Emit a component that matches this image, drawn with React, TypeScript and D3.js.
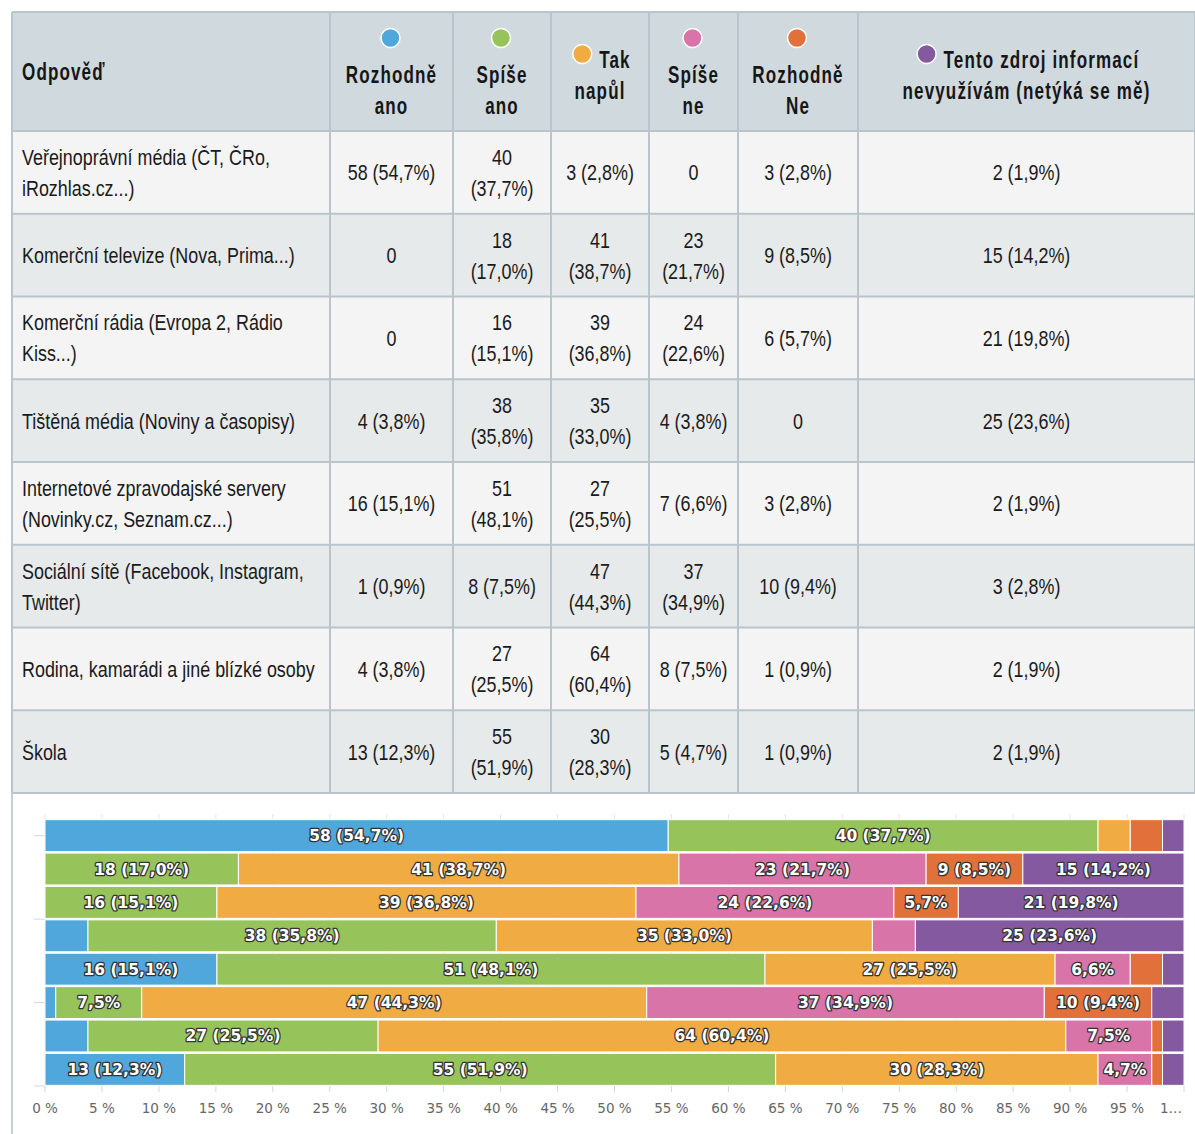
import React from "react";
import * as d3 from "d3";

const categories = [
  "Veřejnoprávní média (ČT, ČRo, iRozhlas.cz...)",
  "Komerční televize (Nova, Prima...)",
  "Komerční rádia (Evropa 2, Rádio Kiss...)",
  "Tištěná média (Noviny a časopisy)",
  "Internetové zpravodajské servery (Novinky.cz, Seznam.cz...)",
  "Sociální sítě (Facebook, Instagram, Twitter)",
  "Rodina, kamarádi a jiné blízké osoby",
  "Škola",
];

const rozhodneAno = [58, 0, 0, 4, 16, 1, 4, 13];
const spiseAno = [40, 18, 16, 38, 51, 8, 27, 55];
const takNapul = [3, 41, 39, 35, 27, 47, 64, 30];
const spiseNe = [0, 23, 24, 4, 7, 37, 8, 5];
const rozhodneNe = [3, 9, 6, 0, 3, 10, 1, 1];
const nevyuzivam = [2, 15, 21, 25, 2, 3, 2, 2];

const seriesNames = [
  "Rozhodně ano",
  "Spíše ano",
  "Tak napůl",
  "Spíše ne",
  "Rozhodně Ne",
  "Tento zdroj informací nevyužívám (netýká se mě)",
];
const seriesColors = ["#4fa7dc", "#97c35b", "#f0ab43", "#d874a7", "#e2703a", "#8559a0"];
const firstHeader = "Odpověď";
const xTicks = [0, 5, 10, 15, 20, 25, 30, 35, 40, 45, 50, 55, 60, 65, 70, 75, 80, 85, 90, 95, 100];

const seriesValues = [rozhodneAno, spiseAno, takNapul, spiseNe, rozhodneNe, nevyuzivam];

// layout
const W = 1195;
const H = 1134;
const colEdges = [12, 330, 453, 551, 649, 738, 858, 1195];
const headerTop = 12;
const headerBottom = 131;
const tableBottom = 793;
const plotLeft = 45;
const plotRight = 1184;
const barsTop = 819;
const barsBottom = 1086;

const tableFont = "'Liberation Sans', Arial, sans-serif";
const chartFont = "'DejaVu Sans', sans-serif";
const bodySX = 0.815;
const bodySize = 22;
const headSX = 0.71;
const headSize = 24;
const headLS = 1.6;

function pct(v: number, total: number) {
  return ((v / total) * 100).toFixed(1).replace(".", ",");
}

function wrapWords(text: string, maxChars: number): string[] {
  const words = text.split(" ");
  const lines: string[] = [];
  let cur = "";
  for (const w of words) {
    const cand = cur ? cur + " " + w : w;
    if (cand.length > maxChars && cur) {
      lines.push(cur);
      cur = w;
    } else cur = cand;
  }
  if (cur) lines.push(cur);
  return lines;
}

let _ctx: CanvasRenderingContext2D | null = null;
function measureHead(s: string): number {
  if (!_ctx) {
    const c = document.createElement("canvas");
    _ctx = c.getContext("2d");
  }
  if (!_ctx) return s.length * 10;
  _ctx.font = `bold ${headSize}px 'Liberation Sans', Arial, sans-serif`;
  return (_ctx.measureText(s).width + s.length * headLS) * headSX;
}

function ST(props: { x: number; y: number; sx: number; anchor?: string; style: React.CSSProperties; children: any }) {
  return (
    <text
      transform={`translate(${props.x},${props.y}) scale(${props.sx},1)`}
      textAnchor={props.anchor || "start"}
      style={props.style}
    >
      {props.children}
    </text>
  );
}

export default function App() {
  const totals = categories.map((_, i) => seriesValues.reduce((s, arr) => s + arr[i], 0));
  const rowH = (tableBottom - headerBottom) / categories.length;
  const lineH = 31;

  const x = d3.scaleLinear().domain([0, 100]).range([plotLeft, plotRight]);
  const y = d3
    .scaleBand<string>()
    .domain(categories)
    .range([barsTop, barsBottom])
    .paddingInner(0.045)
    .paddingOuter(0.02);
  const yUnit = d3.scaleLinear().domain([0, categories.length]).range([barsTop, barsBottom]);

  const stackData = categories.map((c, i) => {
    const row: any = { cat: c };
    seriesNames.forEach((s, k) => (row[s] = (seriesValues[k][i] / totals[i]) * 100));
    return row;
  });
  const stack = d3.stack<any>().keys(seriesNames)(stackData);

  const headerCenterY = (headerTop + headerBottom) / 2;
  const headStyle: React.CSSProperties = {
    fontFamily: tableFont,
    fontWeight: 700,
    fontSize: headSize,
    letterSpacing: headLS,
    fill: "#161616",
  };
  const bodyStyle: React.CSSProperties = {
    fontFamily: tableFont,
    fontSize: bodySize,
    fill: "#1a1a1a",
  };

  const cellText = (v: number, t: number) => (v === 0 ? "0" : `${v} (${pct(v, t)}%)`);

  return (
    <div style={{ position: "absolute", left: 0, top: 0 }}>
      <svg width={W} height={H} style={{ display: "block", background: "#fff" }}>
        {/* header background */}
        <rect x={colEdges[0]} y={headerTop} width={colEdges[7] - colEdges[0]} height={headerBottom - headerTop} fill="#d0d9dd" />
        {categories.map((c, i) => (
          <rect
            key={"bg" + i}
            x={colEdges[0]}
            y={headerBottom + i * rowH}
            width={colEdges[7] - colEdges[0]}
            height={rowH}
            fill={i % 2 === 0 ? "#f4f4f4" : "#e7eaeb"}
          />
        ))}
        {colEdges.map((cx, i) => (
          <line key={"vc" + i} x1={cx} x2={cx} y1={headerTop} y2={tableBottom} stroke="#b9c5ca" strokeWidth={2} />
        ))}
        {[headerTop, headerBottom, ...categories.map((_, i) => headerBottom + (i + 1) * rowH)].map((ly, i) => (
          <line key={"hr" + i} x1={colEdges[0]} x2={colEdges[7]} y1={ly} y2={ly} stroke="#b9c5ca" strokeWidth={2} />
        ))}

        {/* header texts */}
        <ST x={colEdges[0] + 10} y={headerCenterY + 8.5} sx={headSX} style={headStyle}>
          {firstHeader}
        </ST>
        {seriesNames.map((name, k) => {
          const cx = (colEdges[k + 1] + colEdges[k + 2]) / 2;
          const colW = colEdges[k + 2] - colEdges[k + 1];
          const maxChars = Math.floor((colW - 16) / 10.5);
          const lines = wrapWords(name, maxChars);
          const inlineDot = lines[0].length <= 4 || k === seriesNames.length - 1;
          if (!inlineDot) {
            return (
              <g key={"h" + k}>
                <circle cx={cx - 1} cy={headerCenterY - 33.5} r={9.5} fill={seriesColors[k]} stroke="#fff" strokeWidth={1.5} />
                {lines.map((l, j) => (
                  <ST key={j} x={cx} y={headerCenterY + 2.5 + j * 31 + 8.5} sx={headSX} anchor="middle" style={headStyle}>
                    {l}
                  </ST>
                ))}
              </g>
            );
          }
          const y1 = headerCenterY - 12.5;
          return (
            <g key={"h" + k}>
              {lines.map((l, j) => {
                if (j === 0) {
                  const tw = measureHead(l);
                  const totalW = tw + 26;
                  const left = cx - totalW / 2 + 2;
                  return (
                    <g key={j}>
                      <circle cx={left + 9} cy={y1 - 5} r={9.5} fill={seriesColors[k]} stroke="#fff" strokeWidth={1.5} />
                      <ST x={left + 26} y={y1 + 8.5} sx={headSX} style={headStyle}>
                        {l}
                      </ST>
                    </g>
                  );
                }
                return (
                  <ST key={j} x={cx} y={y1 + j * 31 + 8.5} sx={headSX} anchor="middle" style={headStyle}>
                    {l}
                  </ST>
                );
              })}
            </g>
          );
        })}

        {/* body cells */}
        {categories.map((c, i) => {
          const cy = headerBottom + (i + 0.5) * rowH;
          const catLines = wrapWords(c, 36);
          return (
            <g key={"row" + i}>
              {catLines.map((l, j) => (
                <ST
                  key={j}
                  x={colEdges[0] + 10}
                  y={cy - ((catLines.length - 1) * lineH) / 2 + j * lineH + 8}
                  sx={bodySX}
                  style={bodyStyle}
                >
                  {l}
                </ST>
              ))}
              {seriesValues.map((arr, k) => {
                const colW = colEdges[k + 2] - colEdges[k + 1];
                const cx = (colEdges[k + 1] + colEdges[k + 2]) / 2;
                const txt = cellText(arr[i], totals[i]);
                const maxChars = Math.floor((colW - 20) / 8.2);
                const lines = txt.length > maxChars ? wrapWords(txt, 3) : [txt];
                return lines.map((l, j) => (
                  <ST
                    key={k + "-" + j}
                    x={cx}
                    y={cy - ((lines.length - 1) * lineH) / 2 + j * lineH + 8}
                    sx={bodySX}
                    anchor="middle"
                    style={bodyStyle}
                  >
                    {l}
                  </ST>
                ));
              })}
            </g>
          );
        })}

        {/* chart container left border */}
        <line x1={12} x2={12} y1={tableBottom} y2={H} stroke="#c6cfd3" strokeWidth={2} />

        {/* gridlines */}
        {xTicks.map((t) => (
          <line key={"g" + t} x1={x(t)} x2={x(t)} y1={barsTop - 5} y2={barsBottom} stroke="#e6e6e6" strokeWidth={1} />
        ))}
        {xTicks.map((t) => (
          <line key={"bt" + t} x1={x(t)} x2={x(t)} y1={barsBottom} y2={barsBottom + 6} stroke="#ccd6eb" strokeWidth={1} />
        ))}
        {[0.5, 3, 5.5, 8].map((u) => (
          <line key={"ct" + u} x1={plotLeft - 11} x2={plotLeft} y1={yUnit(u)} y2={yUnit(u)} stroke="#ccd6eb" strokeWidth={1} />
        ))}

        {/* bars */}
        {stack.map((layer, k) => (
          <g key={"s" + k}>
            {layer.map((d, i) => {
              const v = seriesValues[k][i];
              if (v === 0) return null;
              const x0 = x(d[0]);
              const x1 = x(d[1]);
              const by = y(categories[i]) as number;
              const bh = y.bandwidth();
              return (
                <rect
                  key={i}
                  x={x0}
                  y={by}
                  width={Math.max(0, x1 - x0)}
                  height={bh}
                  fill={seriesColors[k]}
                  stroke="#fff"
                  strokeWidth={1}
                />
              );
            })}
          </g>
        ))}

        {/* bar labels */}
        {stack.map((layer, k) => (
          <g key={"l" + k}>
            {layer.map((d, i) => {
              const v = seriesValues[k][i];
              const p = pct(v, totals[i]);
              let label = "";
              if (v >= 9) label = `${v} (${p}%)`;
              else if (v >= 5) label = `${p}%`;
              if (!label) return null;
              const cx = (x(d[0]) + x(d[1])) / 2;
              const cy = (y(categories[i]) as number) + y.bandwidth() / 2;
              return (
                <text
                  key={i}
                  x={cx}
                  y={cy + 5.5}
                  textAnchor="middle"
                  style={{
                    fontFamily: chartFont,
                    fontWeight: 700,
                    fontSize: 15.5,
                    fill: "#fff",
                    stroke: "#333",
                    strokeWidth: 2.6,
                    strokeLinejoin: "round",
                    paintOrder: "stroke",
                  }}
                >
                  {label}
                </text>
              );
            })}
          </g>
        ))}

        {/* x axis labels */}
        {xTicks.map((t, i) => {
          const last = i === xTicks.length - 1;
          return (
            <text
              key={"xl" + t}
              x={last ? x(t) - 2 : x(t)}
              y={barsBottom + 27}
              textAnchor={last ? "end" : "middle"}
              style={{ fontFamily: chartFont, fontSize: 13.5, fill: "#666" }}
            >
              {last ? "1…" : `${t} %`}
            </text>
          );
        })}
      </svg>
    </div>
  );
}
